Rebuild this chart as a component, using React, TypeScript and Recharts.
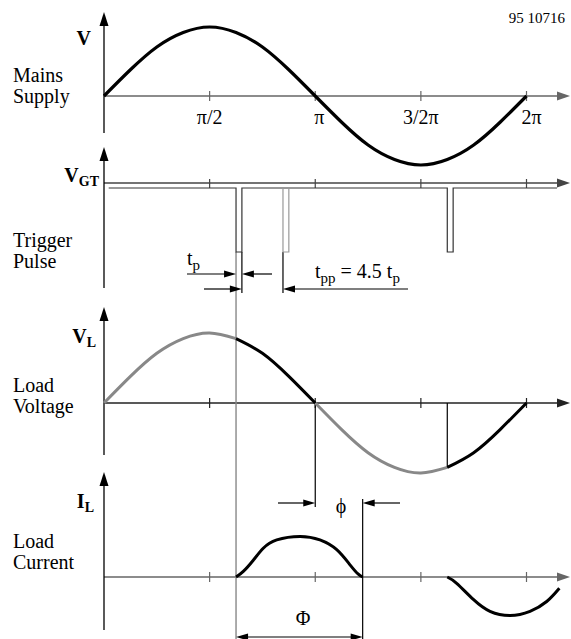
import React from 'react';
import { ComposedChart, Line, XAxis, YAxis, ReferenceLine, ReferenceDot } from 'recharts';

const W = 571;
const H = 639;
const X0 = 104; // px where the phase axis starts
const PX_PER_DEG = 422.5 / 360;
const deg = (px: number) => (px - X0) / PX_PER_DEG;
const X_DOMAIN = [deg(0), deg(W)];
const FONT = '"Liberation Serif", "Times New Roman", serif';

// phase grid in degrees (pi/8 steps)
const phase = [0, 22.5, 45, 67.5, 90, 112.5, 135, 157.5, 180, 202.5, 225, 247.5, 270, 292.5, 315, 337.5, 360];
const mains = [0, 0.38, 0.71, 0.92, 1, 0.92, 0.71, 0.38, 0, -0.38, -0.71, -0.92, -1, -0.92, -0.71, -0.38, 0];
// load voltage: blocked part (grey) and conducting part (black)
const loadBlocked = [0, 0.38, 0.71, 0.92, 1, 0.92, null, null, 0, -0.38, -0.71, -0.92, -1, -0.92, null, null, null];
const loadConducting = [null, null, null, null, null, 0.92, 0.71, 0.38, 0, null, null, null, null, -0.92, -0.71, -0.38, 0];

const tickPhase = [90, 180, 270, 360];
const tickLabels = ['π/2', 'π', '3/2π', '2π'];

// trigger pulses
const triggerAngle = 112.5;
const pulseEnd = 117.5;
const ghostAngle = 152.5;
const secondTrigger = 292.5;
const gatePhase = [4, 112.5, 112.5, 117.5, 117.5, 292.5, 292.5, 297.5, 297.5, 386];
const gateLevel = [0, 0, -1, -1, 0, 0, -1, -1, 0, 0];
const ghostPhase = [152.5, 152.5, 157.5, 157.5];
const ghostLevel = [0, -1, -1, 0];

// load current
const currentPhaseA = [112.5, 118.7, 127.2, 135.7, 147.2, 167, 184, 198.3, 209.8, 216.7, 220.4];
const currentA = [0, 0.08, 0.24, 0.41, 0.53, 0.58, 0.53, 0.39, 0.17, 0.04, 0];
const currentPhaseB = [292.5, 300.5, 314.7, 328.9, 346, 363, 377.2, 388];
const currentB = [0, -0.09, -0.32, -0.49, -0.55, -0.49, -0.35, -0.16];
const currentEnd = 220.4;

const panels = {
  mains: { base: 96, unit: 69 },
  gate: { base: 188, unit: 64 },
  load: { base: 403, unit: 70 },
  current: { base: 577, unit: 70 },
};
const panelDomain = (p: { base: number; unit: number }) => [(p.base - H) / p.unit, p.base / p.unit];
const rows = (xs: number[], ys: (number | null)[]) => xs.map((x, i) => ({ x, y: ys[i] }));

function arrow(color: string, width: number, heads: 'end' | 'both' | 'none', len = 12, half = 3.5) {
  return (p: any) => {
    const { x1, y1, x2, y2 } = p;
    const dx = x2 - x1;
    const dy = y2 - y1;
    const d = Math.hypot(dx, dy) || 1;
    const ux = dx / d;
    const uy = dy / d;
    const head = (tx: number, ty: number, sx: number, sy: number) => {
      const bx = tx - sx * len;
      const by = ty - sy * len;
      return `${tx},${ty} ${bx - sy * half},${by + sx * half} ${bx + sy * half},${by - sx * half}`;
    };
    const cut = heads === 'none' ? 0 : len * 0.8;
    const cutStart = heads === 'both' ? len * 0.8 : 0;
    return (
      <g>
        <line x1={x1 + ux * cutStart} y1={y1 + uy * cutStart} x2={x2 - ux * cut} y2={y2 - uy * cut}
          stroke={color} strokeWidth={width} />
        {heads !== 'none' && <polygon points={head(x2, y2, ux, uy)} fill={color} />}
        {heads === 'both' && <polygon points={head(x1, y1, -ux, -uy)} fill={color} />}
      </g>
    );
  };
}

const seg = (key: string, x1: number, y1: number, x2: number, y2: number, shape: any) => (
  <ReferenceLine key={key} yAxisId="px" ifOverflow="visible"
    segment={[{ x: x1, y: y1 }, { x: x2, y: y2 }]} shape={shape} />
);

const txt = (key: string, x: number, y: number, node: React.ReactNode, anchor = 'start', size = 20, weight = 'normal') => (
  <ReferenceDot key={key} yAxisId="px" x={x} y={y} r={0} ifOverflow="visible"
    shape={(p: any) => (
      <text x={p.cx} y={p.cy} textAnchor={anchor} fontSize={size} fontWeight={weight} fill="#000"
        style={{ fontFamily: FONT }}>
        {node}
      </text>
    )} />
);

const AXIS_END = deg(570);
const thin = arrow('#000', 1.2, 'none');

export default function App() {
  const decor: React.ReactNode[] = [];

  // x axes with arrows
  const xAxes: [string, number, string][] = [
    ['mains', panels.mains.base, '#666'],
    ['gate', 183, '#444'],
    ['load', panels.load.base, '#222'],
    ['current', panels.current.base, '#666'],
  ];
  xAxes.forEach(([k, y, c]) => {
    decor.push(seg(`xa-${k}`, 0, y, AXIS_END, y, arrow(c, 1.3, 'end', 13, 4.5)));
    tickPhase.forEach((t) => {
      const top = k === 'gate' ? 179 : y - 5;
      const bot = k === 'gate' ? 188 : y + 5;
      decor.push(seg(`tk-${k}-${t}`, t, top, t, bot, arrow(c, 1.2, 'none')));
    });
  });

  // y axes with arrows
  const yAxes: [string, number, number][] = [
    ['mains', 133, 12],
    ['gate', 288, 147],
    ['load', 455, 307],
    ['current', 630, 472],
  ];
  yAxes.forEach(([k, b, t]) => decor.push(seg(`ya-${k}`, 0, b, 0, t, arrow('#000', 1.3, 'end', 14, 4.5))));

  // extension lines
  decor.push(seg('trig', triggerAngle, 252, triggerAngle, H, arrow('#888', 1.4, 'none')));
  decor.push(seg('pend', pulseEnd, 252, pulseEnd, 293, thin));
  decor.push(seg('ghost', ghostAngle, 252, ghostAngle, 293, thin));
  decor.push(seg('pi', 180, panels.load.base, 180, 507, thin));
  decor.push(seg('iend', currentEnd, 499, currentEnd, H, thin));
  decor.push(seg('trig2', secondTrigger, panels.load.base, secondTrigger, panels.load.base + 0.924 * panels.load.unit, thin));

  // dimension arrows
  const dim = arrow('#000', 1.2, 'end', 12, 3.5);
  decor.push(seg('tp1', deg(187), 274, triggerAngle, 274, dim));
  decor.push(seg('tp2', deg(272), 274, pulseEnd, 274, dim));
  decor.push(seg('tp3', deg(204), 289, pulseEnd, 289, dim));
  decor.push(seg('tpp', deg(408), 289, ghostAngle, 289, dim));
  decor.push(seg('phi1', deg(278), 503, 180, 503, dim));
  decor.push(seg('phi2', deg(400), 503, currentEnd, 503, dim));
  decor.push(seg('Phi', triggerAngle, 637, currentEnd, 637, arrow('#000', 1.2, 'both', 12, 3.5)));

  // texts
  const sub = (s: string, dy = 4, size = 14) => [
    <tspan key="s" dy={dy} fontSize={size}>{s}</tspan>,
  ];
  decor.push(txt('id', deg(565), 23, '95 10716', 'end', 15));
  decor.push(txt('V', deg(91), 45, 'V', 'end', 20, 'bold'));
  decor.push(txt('m1', deg(13), 82, 'Mains'));
  decor.push(txt('m2', deg(13), 103, 'Supply'));
  tickLabels.forEach((l, i) => {
    const shift = i === 1 ? 4 : i === 3 ? 5 : 0;
    decor.push(txt(`tl-${i}`, tickPhase[i] + shift / PX_PER_DEG, 124, l, 'middle', 20));
  });
  decor.push(txt('vgt', deg(99), 182, [<tspan key="v">V</tspan>, ...sub('GT', 4, 14)], 'end', 20, 'bold'));
  decor.push(txt('t1', deg(13), 247, 'Trigger'));
  decor.push(txt('t2', deg(13), 268, 'Pulse'));
  decor.push(txt('tp', deg(187), 265, [<tspan key="t">t</tspan>, ...sub('p', 5, 15)], 'start', 20));
  decor.push(txt('tpp', deg(315), 278, [
    <tspan key="a">t</tspan>,
    <tspan key="b" dy={5} fontSize={15}>pp</tspan>,
    <tspan key="c" dy={-5}>{' = 4.5 t'}</tspan>,
    <tspan key="d" dy={5} fontSize={15}>p</tspan>,
  ], 'start', 20));
  decor.push(txt('vl', deg(96), 343, [<tspan key="v">V</tspan>, ...sub('L', 4, 14)], 'end', 20, 'bold'));
  decor.push(txt('l1', deg(13), 392, 'Load'));
  decor.push(txt('l2', deg(13), 413, 'Voltage'));
  decor.push(txt('il', deg(94), 508, [<tspan key="i">I</tspan>, ...sub('L', 4, 14)], 'end', 20, 'bold'));
  decor.push(txt('c1', deg(13), 548, 'Load'));
  decor.push(txt('c2', deg(13), 569, 'Current'));
  decor.push(txt('phi', deg(341), 513, 'ϕ', 'middle', 20));
  decor.push(txt('Phi', deg(303), 625, 'Φ', 'middle', 20));

  return (
    <div style={{ position: 'absolute', left: 0, top: 0, width: W, height: H, background: '#fff' }}>
      <ComposedChart width={W} height={H} margin={{ top: 0, right: 0, left: 0, bottom: 0 }}>
        <XAxis type="number" dataKey="x" domain={X_DOMAIN} hide allowDataOverflow />
        <YAxis yAxisId="px" type="number" domain={[0, H]} reversed hide allowDataOverflow />
        <YAxis yAxisId="mains" type="number" domain={panelDomain(panels.mains)} hide allowDataOverflow />
        <YAxis yAxisId="gate" type="number" domain={panelDomain(panels.gate)} hide allowDataOverflow />
        <YAxis yAxisId="load" type="number" domain={panelDomain(panels.load)} hide allowDataOverflow />
        <YAxis yAxisId="current" type="number" domain={panelDomain(panels.current)} hide allowDataOverflow />

        {decor}

        <Line yAxisId="mains" data={rows(phase, mains)} dataKey="y" type="natural" stroke="#000" strokeWidth={3.2}
          dot={false} activeDot={false} isAnimationActive={false} />
        <Line yAxisId="gate" data={rows(gatePhase, gateLevel)} dataKey="y" type="linear" stroke="#333" strokeWidth={1.2}
          dot={false} activeDot={false} isAnimationActive={false} />
        <Line yAxisId="gate" data={rows(ghostPhase, ghostLevel)} dataKey="y" type="linear" stroke="#999" strokeWidth={1.2}
          dot={false} activeDot={false} isAnimationActive={false} />
        <Line yAxisId="load" data={rows(phase, loadBlocked)} dataKey="y" type="natural" stroke="#888" strokeWidth={3}
          dot={false} activeDot={false} isAnimationActive={false} />
        <Line yAxisId="load" data={rows(phase, loadConducting)} dataKey="y" type="natural" stroke="#000" strokeWidth={3}
          dot={false} activeDot={false} isAnimationActive={false} />
        <Line yAxisId="current" data={rows(currentPhaseA, currentA)} dataKey="y" type="natural" stroke="#000" strokeWidth={3}
          dot={false} activeDot={false} isAnimationActive={false} />
        <Line yAxisId="current" data={rows(currentPhaseB, currentB)} dataKey="y" type="natural" stroke="#000" strokeWidth={3}
          dot={false} activeDot={false} isAnimationActive={false} />
      </ComposedChart>
    </div>
  );
}
